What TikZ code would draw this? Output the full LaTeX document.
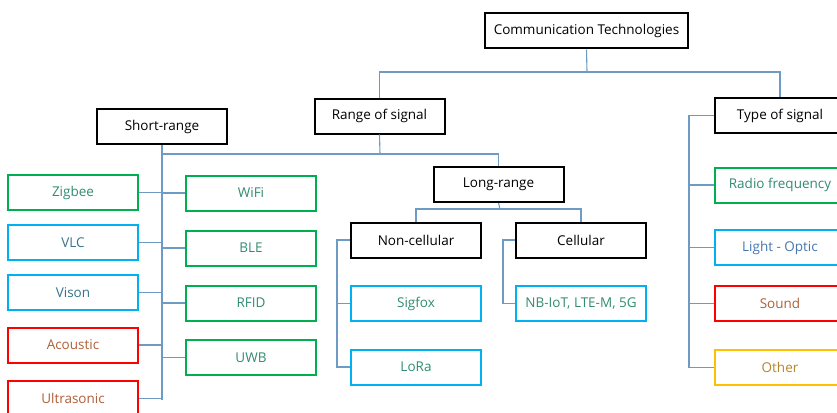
\documentclass[tikz,border=0pt]{standalone}
\usepackage{fontspec}
\setmainfont{Open Sans}
\definecolor{conn}{RGB}{110,155,196}
\definecolor{gbox}{RGB}{0,176,80}
\definecolor{gtxt}{RGB}{50,140,115}
\definecolor{cbox}{RGB}{0,176,240}
\definecolor{ctxt}{RGB}{55,115,140}
\definecolor{ltxt}{RGB}{70,120,175}
\definecolor{rbox}{RGB}{255,0,0}
\definecolor{rtxt}{RGB}{176,96,58}
\definecolor{ybox}{RGB}{255,192,0}
\definecolor{ytxt}{RGB}{184,134,40}
\tikzset{
  base/.style={draw, line width=2pt, minimum width=130pt, minimum height=35pt, inner sep=0pt, font=\fontsize{13.5}{15}\selectfont},
  hdr/.style={base, draw=black, text=black},
  gnode/.style={base, draw=gbox, text=gtxt},
  cnode/.style={base, draw=cbox, text=ctxt},
  lnode/.style={base, draw=cbox, text=gtxt},
  onode/.style={base, draw=cbox, text=ltxt},
  rnode/.style={base, draw=rbox, text=rtxt},
  ynode/.style={base, draw=ybox, text=ytxt},
  wire/.style={draw=conn, line width=1.1pt}
}
\begin{document}
\begin{tikzpicture}[x=1pt,y=-1pt]
\useasboundingbox[fill=white] (0,0) rectangle (837,412);
% headers
\node[hdr, minimum width=203pt] (ct) at (586.5,31) {Communication Technologies};
\node[hdr] (rs) at (379.5,116) {Range of signal};
\node[hdr] (ts) at (780,115.5) {Type of signal};
\node[hdr] (sr) at (162,126.5) {Short-range};
\node[hdr] (lr) at (498.5,184.5) {Long-range};
\node[hdr] (nc) at (416,240) {Non-cellular};
\node[hdr] (ce) at (581,240) {Cellular};
% short-range left column
\node[gnode] (zig) at (73,192.5) {Zigbee};
\node[cnode] (vlc) at (73,242.5) {VLC};
\node[cnode] (vis) at (73,292.5) {Vison};
\node[rnode] (aco) at (73,345) {Acoustic};
\node[rnode] (ult) at (73,398.5) {Ultrasonic};
% short-range right column
\node[gnode] (wifi) at (251,193) {WiFi};
\node[gnode] (ble) at (251,248) {BLE};
\node[gnode] (rfid) at (251,303) {RFID};
\node[gnode] (uwb) at (251,357.5) {UWB};
% long-range
\node[lnode] (sig) at (416,303.5) {Sigfox};
\node[lnode] (lora) at (416,367) {LoRa};
\node[lnode] (nb) at (581,303.5) {NB-IoT, LTE-M, 5G};
% type of signal
\node[gnode] (rf) at (780,185) {Radio frequency};
\node[onode] (lo) at (780,247.5) {Light - Optic};
\node[rnode] (snd) at (780,303.5) {Sound};
\node[ynode] (oth) at (780,367.5) {Other};
% junctions
\coordinate (j1) at (587,72);
\coordinate (j2) at (380,154);
\coordinate (j3) at (500,209);
% connectors
\draw[wire] (ct.south) -- (j1);
\draw[wire] (rs.north) |- (j1) -| (ts.north);
\draw[wire] (rs.south) -- (j2);
\draw[wire] (sr.south) -- (sr.south |- 0,400);
\draw[wire] (sr.south |- j2) -| (lr.north);
\foreach \n in {zig,vlc,vis,aco,ult} \draw[wire] (\n.east) -- (\n.east -| sr.south);
\foreach \n in {wifi,ble,rfid,uwb} \draw[wire] (\n.west) -- (\n.west -| sr.south);
\draw[wire] (lr.south) -- (j3);
\draw[wire] (nc.north) |- (j3) -| (ce.north);
\draw[wire] (nc.west) -- ++(-13,0) |- (lora.west);
\draw[wire] (sig.west) -- ++(-13,0);
\draw[wire] (ce.west) -- ++(-12,0) |- (nb.west);
\draw[wire] (ts.west) -- ++(-25,0) |- (oth.west);
\foreach \n in {rf,lo,snd} \draw[wire] (\n.west) -- ++(-25,0);
\end{tikzpicture}
\end{document}
